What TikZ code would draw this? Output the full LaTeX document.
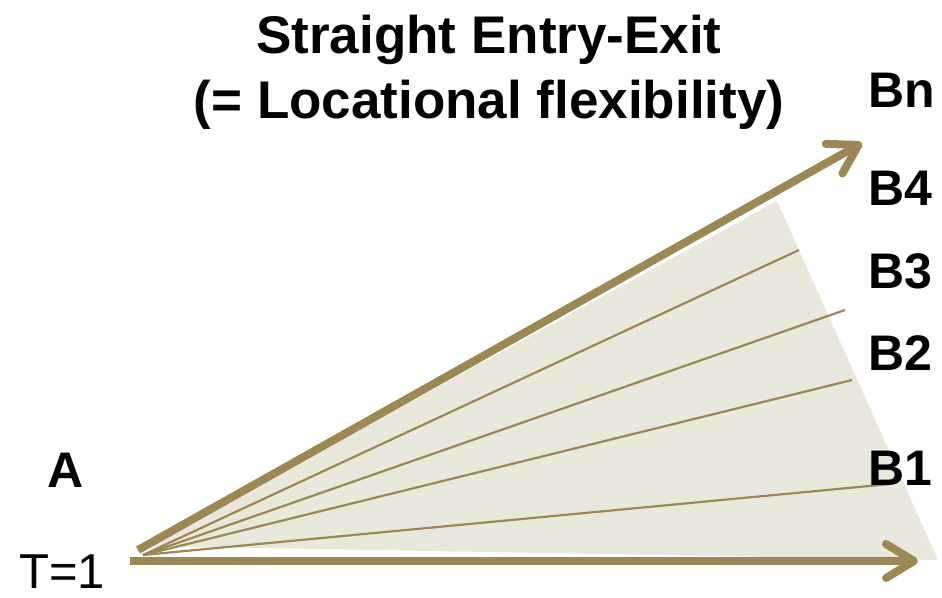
\documentclass[tikz,border=0pt]{standalone}
\usepackage{fontspec}
\setmainfont{Liberation Sans}
\usepackage{tikz}
\usetikzlibrary{arrows.meta,positioning,calc}
\definecolor{gold}{RGB}{155,136,84}
\definecolor{sand}{RGB}{234,231,220}
\tikzset{
    flow/.style={
        draw=gold,
        line width=8pt,
        -{Straight Barb[round,length=28pt,width=34pt]}
    },
    ray/.style={draw=gold, line width=2.2pt},
    dest/.style={
        anchor=base west,
        inner sep=0pt,
        font=\fontsize{50}{60}\selectfont\bfseries
    },
    heading/.style={
        anchor=base,
        inner sep=0pt,
        font=\fontsize{53}{64}\selectfont\bfseries
    }
}

\begin{document}
\begin{tikzpicture}[x=1pt,y=-1pt]
    \useasboundingbox (0,0) rectangle (942,597);

    % shaded fan
    \coordinate (apex) at (147,546);
    \coordinate (top) at (777,201);
    \coordinate (foot) at (938,560);
    \fill[sand] (apex) -- (top) -- (foot) -- cycle;

    % thin rays
    \coordinate (o) at (143,555);
    \coordinate (r1) at (890,484);
    \coordinate (r2) at (852,380);
    \coordinate (r3) at (845,310);
    \coordinate (r4) at (799,250);
    \foreach \r in {r1,r2,r3,r4}
        \draw[ray] (o) -- (\r);

    % thick arrows
    \coordinate (up0) at (138,550);
    \coordinate (up1) at (862,143);
    \coordinate (lo0) at (130,561);
    \coordinate (lo1) at (918,561);
    \draw[flow] (up0) -- (up1);
    \draw[flow] (lo0) -- (lo1);

    % labels
    \node[heading] (t1) at (489,53) {Straight Entry-Exit};
    \node[heading] (t2) at (489,118) {(= Locational flexibility)};
    \node[dest] (bn) at (868,107) {Bn};
    \node[dest] (b4) at (868,205) {B4};
    \node[dest] (b3) at (868,288) {B3};
    \node[dest] (b2) at (868,370) {B2};
    \node[dest] (b1) at (868,485) {B1};
    \node[dest] (a) at (47,487) {A};
    \node[anchor=base west, inner sep=0pt, font=\fontsize{49}{59}\selectfont] (t) at (19,588) {T=1};
\end{tikzpicture}
\end{document}
